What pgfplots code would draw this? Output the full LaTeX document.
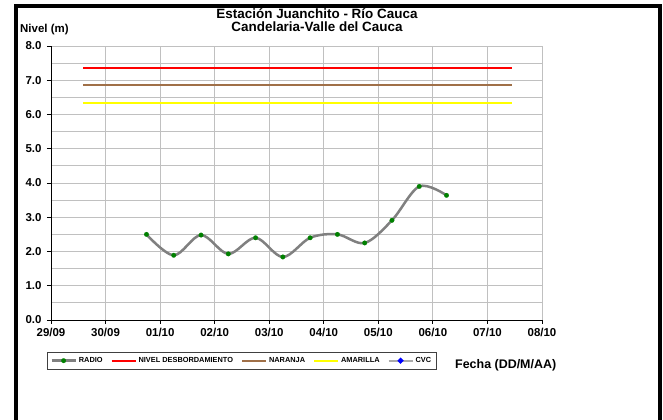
\documentclass[border=0pt]{standalone}
\usepackage{fontspec}
\setmainfont{Liberation Sans}
\usepackage{pgfplots}
\pgfplotsset{compat=1.18}
\definecolor{radio}{RGB}{128,128,128}
\definecolor{radiomk}{RGB}{0,128,0}
\definecolor{brownl}{RGB}{160,112,72}
\definecolor{yell}{RGB}{255,255,0}
\definecolor{gridc}{RGB}{192,192,192}
\definecolor{cvcl}{RGB}{170,170,170}
\begin{document}
\begin{tikzpicture}
\useasboundingbox (0,0) rectangle (663bp,420bp);
\fill[white] (0,0) rectangle (663bp,420bp);
\draw[line width=4.5bp, line join=miter] (15.75bp,-10bp) -- (15.75bp,414bp) -- (660bp,414bp) -- (660bp,-10bp);
\begin{axis}[
  at={(51bp,100bp)}, anchor=south west,
  scale only axis, width=491bp, height=274bp,
  xmin=0, xmax=9, ymin=0, ymax=8,
  xtick={0,...,9},
  xticklabels={29/09,30/09,01/10,02/10,03/10,04/10,05/10,06/10,07/10,08/10},
  ytick={0,...,8},
  minor ytick={0.5,1.5,...,7.5},
  yticklabel style={xshift=-2bp, /pgf/number format/.cd,fixed,fixed zerofill,precision=1},
  /pgf/number format/assume math mode=true,
  grid=both,
  major grid style={draw=gridc, line width=0.8bp},
  minor grid style={draw=gridc, line width=0.8bp},
  axis lines=left,
  axis line style={-, black, line width=0.8bp},
  tick align=outside,
  major tick length=4bp, minor tick length=0pt,
  tick style={black, line width=0.8bp},
  ticklabel style={font=\fontsize{11.5}{13}\selectfont\bfseries},
  xticklabel style={yshift=-1bp},
  legend columns=5,
  legend style={at={(-0.0081,-0.1168)}, anchor=north west, draw=black!75, line width=0.7bp,
    font=\fontsize{7.4}{8}\selectfont\bfseries, inner xsep=3bp, inner ysep=3bp,
    /tikz/every even column/.append style={column sep=6bp}},
  legend image code/.code={\draw[mark repeat=2,mark phase=2,#1] plot coordinates {(0bp,0bp)(12bp,0bp)(24bp,0bp)};},
]
\addplot[radio, line width=2.5bp, smooth, tension=0.55, mark=*, mark size=2.3bp,
  mark options={fill=radiomk, draw=radiomk, solid, line width=0.2bp}] coordinates {
 (1.75,2.50) (2.25,1.89) (2.75,2.48) (3.25,1.93) (3.75,2.40) (4.25,1.84)
 (4.75,2.40) (5.25,2.50) (5.75,2.25) (6.25,2.91) (6.75,3.90) (7.25,3.64)};
\addlegendentry{RADIO}
\addplot[red, line width=2bp] coordinates {(0.59,7.35) (8.45,7.35)};
\addlegendentry{NIVEL DESBORDAMIENTO}
\addplot[brownl, line width=2bp] coordinates {(0.59,6.85) (8.45,6.85)};
\addlegendentry{NARANJA}
\addplot[yell, line width=2bp] coordinates {(0.59,6.35) (8.45,6.35)};
\addlegendentry{AMARILLA}
\addlegendimage{cvcl, line width=2bp, mark=*, mark size=1.8bp, mark options={fill=blue, draw=blue}}
\addlegendentry{CVC}
\end{axis}
\node[anchor=base, font=\fontsize{13.5}{15}\selectfont\bfseries, inner sep=0pt] at (317bp,401bp) {Estación Juanchito - Río Cauca};
\node[anchor=base, font=\fontsize{13.5}{15}\selectfont\bfseries, inner sep=0pt] at (317bp,388bp) {Candelaria-Valle del Cauca};
\node[anchor=base west, font=\fontsize{11.5}{13}\selectfont\bfseries, inner sep=0pt] at (20bp,387bp) {Nivel (m)};
\node[anchor=base west, font=\fontsize{12.5}{14}\selectfont\bfseries, inner sep=0pt] at (455bp,51bp) {Fecha (DD/M/AA)};
\end{tikzpicture}
\end{document}
